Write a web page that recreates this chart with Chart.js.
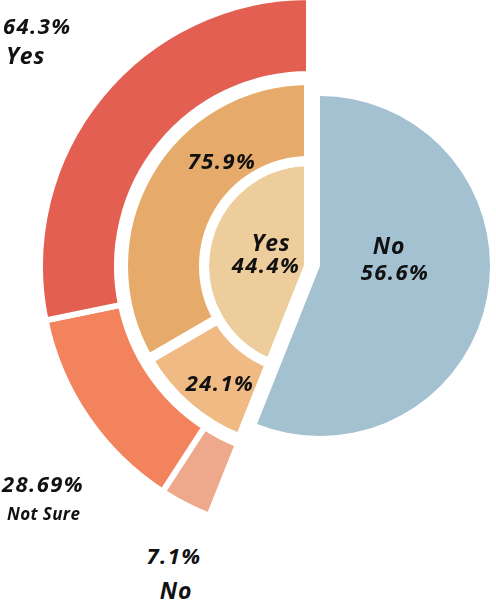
<!DOCTYPE html>
<html>
<head>
<meta charset="utf-8">
<script src="https://cdn.jsdelivr.net/npm/chart.js@4/dist/chart.umd.min.js"></script>
<style>
html,body{margin:0;padding:0;width:496px;height:610px;overflow:hidden;background:#ffffff;}
.box{position:absolute;}
.box canvas{display:block;}
.lbl{position:absolute;font-family:'Open Sans',sans-serif;font-style:italic;font-weight:700;color:#111;white-space:nowrap;line-height:1;transform:translateY(-50%);z-index:5;}
.lbl.c{transform:translate(-50%,-50%);}
</style>
</head>
<body>
<div class="box" style="left:37px;top:-6px;"><canvas id="cA" width="544" height="544"></canvas></div>
<div class="box" style="left:118px;top:75px;"><canvas id="cB" width="382" height="382"></canvas></div>
<div class="box" style="left:150px;top:96px;"><canvas id="cC" width="340" height="340"></canvas></div>
<div id="labels"></div>
<script>
// ---- data ----
const innerLabels = ['Yes', 'No'];
const innerValues = [44.4, 56.6];
const middleLabels = ['75.9%', '24.1%'];
const middleValues = [75.9, 24.1];
const outerLabels = ['Yes', 'Not Sure', 'No'];
const outerValues = [64.3, 28.69, 7.1];

// ---- colours ----
const BLUE = '#a3c1d1';
const BEIGE = '#eecd9d';
const ORANGE = '#e6ab6b';
const LIGHT_ORANGE = '#f0ba84';
const RED = '#e35f52';
const CORAL = '#f2835d';
const SALMON = '#eea88c';
const NONE = 'rgba(0,0,0,0)';

const sum = a => a.reduce((s, v) => s + v, 0);
// the outer and middle rings break down the "Yes" share of the inner pie,
// so they are padded with an invisible part matching the "No" share
const noPerYes = innerValues[1] / innerValues[0];
const outerPad = sum(outerValues) * noPerYes;
const middlePad = sum(middleValues) * noPerYes;

const baseOptions = {
  responsive: false,
  animation: false,
  events: [],
  layout: { padding: 0 },
  plugins: { legend: { display: false }, tooltip: { enabled: false } }
};

// outer ring
new Chart(document.getElementById('cA'), {
  type: 'doughnut',
  data: {
    labels: ['', outerLabels[2], outerLabels[1], outerLabels[0]],
    datasets: [{
      data: [outerPad, outerValues[2], outerValues[1], outerValues[0]],
      backgroundColor: [NONE, SALMON, CORAL, RED],
      borderColor: '#ffffff',
      borderWidth: [0, 6, 6, 6],
      hoverBorderWidth: [0, 6, 6, 6],
      hoverOffset: 0,
      offset: 0
    }]
  },
  options: Object.assign({}, baseOptions, { cutout: 192 })
});

// middle ring + inner pie ("Yes" part)
new Chart(document.getElementById('cB'), {
  type: 'pie',
  data: {
    labels: ['', middleLabels[1], middleLabels[0]],
    datasets: [{
      data: [middlePad, middleValues[1], middleValues[0]],
      backgroundColor: [NONE, LIGHT_ORANGE, ORANGE],
      borderColor: '#ffffff',
      borderWidth: [0, 10, 10],
      hoverBorderWidth: [0, 10, 10],
      hoverOffset: 0,
      weight: 81
    }, {
      data: [innerValues[1], innerValues[0]],
      backgroundColor: [NONE, BEIGE],
      borderColor: '#ffffff',
      borderWidth: [0, 10],
      hoverBorderWidth: [0, 10],
      hoverOffset: 0,
      weight: 105
    }]
  },
  options: Object.assign({}, baseOptions)
});

// inner pie ("No" part, pulled out)
new Chart(document.getElementById('cC'), {
  type: 'pie',
  data: {
    labels: [innerLabels[1], innerLabels[0]],
    datasets: [{
      data: [innerValues[1], innerValues[0]],
      backgroundColor: [BLUE, NONE],
      borderWidth: 0,
      hoverBorderWidth: 0,
      hoverOffset: 0
    }]
  },
  options: Object.assign({}, baseOptions)
});

// ---- text labels ----
const labelLayout = [
  { text: outerValues[0] + '%', x: 3, y: 25, size: 22, ls: 1.4, align: 'l' },
  { text: outerLabels[0], x: 6, y: 55, size: 23, ls: 0.8, align: 'l' },
  { text: outerValues[1] + '%', x: 2, y: 483, size: 22, ls: 1.4, align: 'l' },
  { text: outerLabels[1], x: 7, y: 513, size: 17, ls: 0.4, align: 'l' },
  { text: outerValues[2] + '%', x: 174, y: 555, size: 22, ls: 1.4, align: 'c' },
  { text: outerLabels[2], x: 176, y: 590, size: 23, ls: 0.8, align: 'c' },
  { text: middleValues[0] + '%', x: 222, y: 160, size: 22, ls: 1.4, align: 'c' },
  { text: middleValues[1] + '%', x: 220, y: 382, size: 22, ls: 1.4, align: 'c' },
  { text: innerLabels[0], x: 271, y: 242, size: 23, ls: 0.8, align: 'c' },
  { text: innerValues[0] + '%', x: 266, y: 264, size: 22, ls: 1.4, align: 'c' },
  { text: innerLabels[1], x: 389, y: 245, size: 23, ls: 0.8, align: 'c' },
  { text: innerValues[1] + '%', x: 395, y: 271, size: 22, ls: 1.4, align: 'c' }
];
const host = document.getElementById('labels');
labelLayout.forEach(l => {
  const d = document.createElement('div');
  d.className = 'lbl' + (l.align === 'c' ? ' c' : '');
  d.textContent = l.text;
  d.style.left = l.x + 'px';
  d.style.top = l.y + 'px';
  d.style.fontSize = l.size + 'px';
  d.style.letterSpacing = l.ls + 'px';
  host.appendChild(d);
});
</script>
</body>
</html>
